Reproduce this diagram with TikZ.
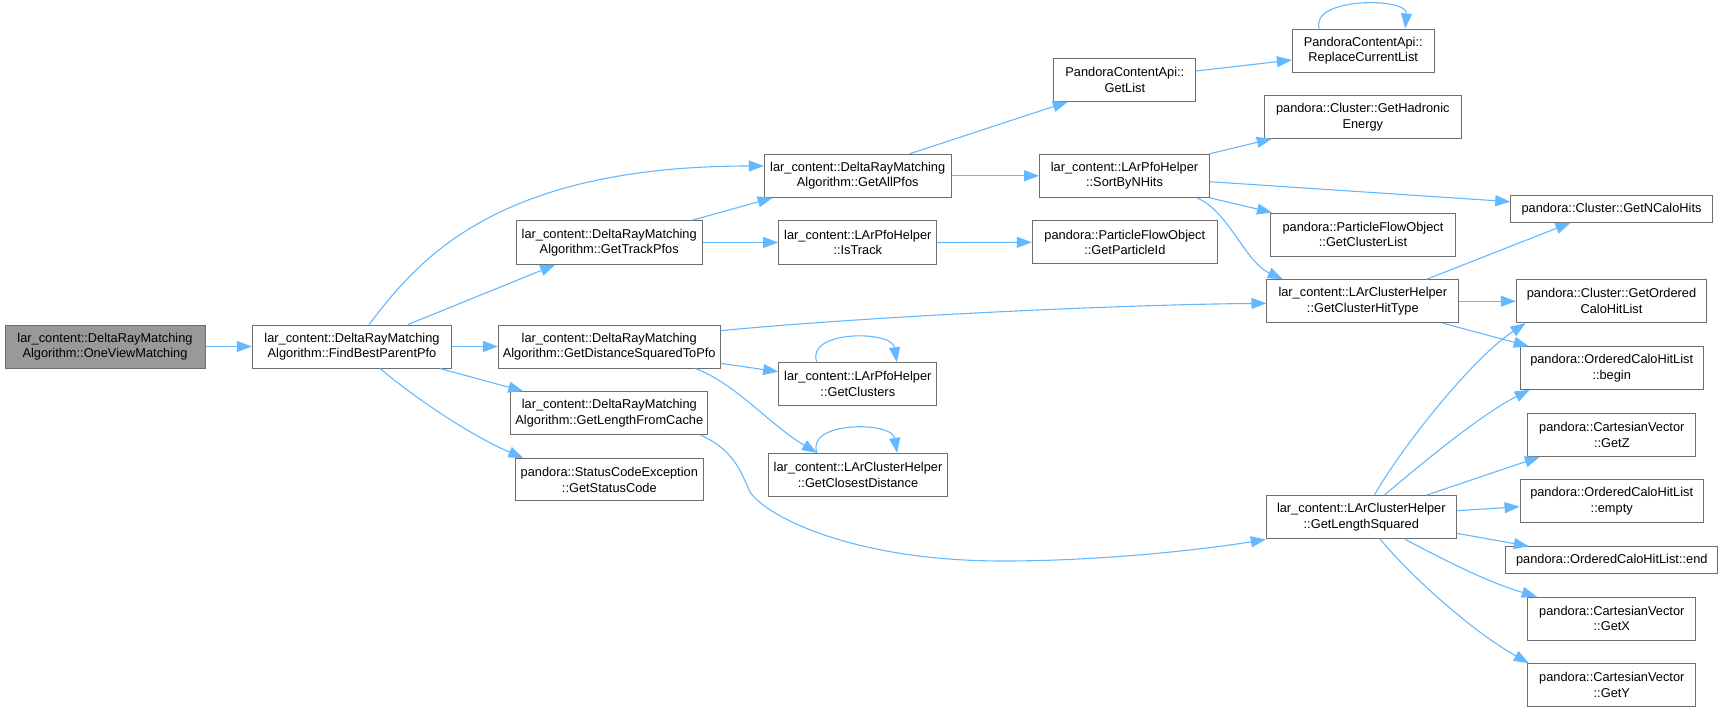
\documentclass[tikz,border=0pt]{standalone}
\usepackage{fontspec}
\setmainfont{Liberation Sans}
\usetikzlibrary{arrows.meta}
\definecolor{edgeblue}{HTML}{63B8FF}
\definecolor{boxborder}{HTML}{6E6E6E}
\definecolor{rootfill}{HTML}{999999}
\newcommand{\nodefont}{\fontsize{12.8}{15.6}\selectfont}
\tikzset{
  fn/.style={draw=boxborder, line width=1pt, fill=white, inner sep=0pt, align=center, font=\nodefont},
  rootfn/.style={fn, fill=rootfill},
  edge/.style={draw=edgeblue, line width=1.1pt, -{Triangle[length=15pt,width=11pt]}},
}
\begin{document}
\begin{tikzpicture}[x=1pt,y=-1pt]
\useasboundingbox (0,0) rectangle (1728,712);
% nodes
\node[rootfn, minimum width=200pt, minimum height=43pt] (root) at (105,346.5) {lar\_content::DeltaRayMatching\\Algorithm::OneViewMatching};
\node[fn, minimum width=199.4pt, minimum height=43pt] (fbp) at (352,346.5) {lar\_content::DeltaRayMatching\\Algorithm::FindBestParentPfo};
\node[fn, minimum width=186.7pt, minimum height=43pt] (gap) at (857.7,175.8) {lar\_content::DeltaRayMatching\\Algorithm::GetAllPfos};
\node[fn, minimum width=186.3pt, minimum height=43.6pt] (gtp) at (609.2,242.5) {lar\_content::DeltaRayMatching\\Algorithm::GetTrackPfos};
\node[fn, minimum width=158.3pt, minimum height=43.6pt] (ist) at (857.8,242.5) {lar\_content::LArPfoHelper\\::IsTrack};
\node[fn, minimum width=221.7pt, minimum height=43pt] (gds) at (609.2,346.5) {lar\_content::DeltaRayMatching\\Algorithm::GetDistanceSquaredToPfo};
\node[fn, minimum width=197.3pt, minimum height=43pt] (glc) at (609.3,413.2) {lar\_content::DeltaRayMatching\\Algorithm::GetLengthFromCache};
\node[fn, minimum width=188pt, minimum height=42.3pt] (gsc) at (609.3,479.8) {pandora::StatusCodeException\\::GetStatusCode};
\node[fn, minimum width=158.3pt, minimum height=42.6pt] (gcl) at (857.8,384) {lar\_content::LArPfoHelper\\::GetClusters};
\node[fn, minimum width=179.4pt, minimum height=42.7pt] (gcd) at (858,474.7) {lar\_content::LArClusterHelper\\::GetClosestDistance};
\node[fn, minimum width=141.7pt, minimum height=42.6pt] (gl) at (1124.8,80) {PandoraContentApi::\\GetList};
\node[fn, minimum width=141.7pt, minimum height=43pt] (rcl) at (1363.2,50.5) {PandoraContentApi::\\ReplaceCurrentList};
\node[fn, minimum width=169.6pt, minimum height=43pt] (sbn) at (1124.5,175.8) {lar\_content::LArPfoHelper\\::SortByNHits};
\node[fn, minimum width=185pt, minimum height=43.3pt] (gpi) at (1124.8,242.3) {pandora::ParticleFlowObject\\::GetParticleId};
\node[fn, minimum width=197pt, minimum height=42.6pt] (ghe) at (1362.8,117) {pandora::Cluster::GetHadronic\\Energy};
\node[fn, minimum width=184.6pt, minimum height=43pt] (gcll) at (1363,234.5) {pandora::ParticleFlowObject\\::GetClusterList};
\node[fn, minimum width=191.7pt, minimum height=43pt] (gcht) at (1362.8,301.2) {lar\_content::LArClusterHelper\\::GetClusterHitType};
\node[fn, minimum width=201.6pt, minimum height=26.6pt] (gnch) at (1611.5,209) {pandora::Cluster::GetNCaloHits};
\node[fn, minimum width=190.4pt, minimum height=43pt] (goch) at (1611.5,301.2) {pandora::Cluster::GetOrdered\\CaloHitList};
\node[fn, minimum width=183.3pt, minimum height=42.6pt] (begin) at (1611.7,368) {pandora::OrderedCaloHitList\\::begin};
\node[fn, minimum width=167.7pt, minimum height=43.3pt] (getz) at (1611.8,434.7) {pandora::CartesianVector\\::GetZ};
\node[fn, minimum width=183.3pt, minimum height=43pt] (empty) at (1611.7,501.2) {pandora::OrderedCaloHitList\\::empty};
\node[fn, minimum width=211.7pt, minimum height=26.6pt] (end) at (1611.8,560) {pandora::OrderedCaloHitList::end};
\node[fn, minimum width=167.7pt, minimum height=43pt] (getx) at (1611.8,618.5) {pandora::CartesianVector\\::GetX};
\node[fn, minimum width=167.7pt, minimum height=43pt] (gety) at (1611.8,685.2) {pandora::CartesianVector\\::GetY};
\node[fn, minimum width=190pt, minimum height=43.3pt] (gls) at (1361.3,517.3) {lar\_content::LArClusterHelper\\::GetLengthSquared};
% edges
\draw[edge] (root.east) -- (fbp.west);
\draw[edge] ([xshift=17pt]fbp.north) .. controls (415,265) and (490,166) .. ([yshift=9.8pt]gap.west);
\draw[edge] ([xshift=56pt]fbp.north) -- ([xshift=-54pt]gtp.south);
\draw[edge] (fbp.east) -- (gds.west);
\draw[edge] ([xshift=88pt]fbp.south) -- ([xshift=-86pt]glc.north);
\draw[edge] ([xshift=28pt]fbp.south) .. controls (415,398) and (470,435) .. ([xshift=-86pt]gsc.north);
\draw[edge] ([xshift=83pt]gtp.north) -- ([xshift=-85pt]gap.south);
\draw[edge] (gtp.east) -- (ist.west);
\draw[edge] (gap.east) -- (sbn.west);
\draw[edge] ([xshift=52pt]gap.north) -- ([xshift=-57pt]gl.south);
\draw[edge] ([yshift=9pt]gl.east) -- ([yshift=-9.5pt]rcl.west);
\draw[edge] ([xshift=-44pt]rcl.north) .. controls (1310,-3) and (1408,-3) .. ([xshift=42pt]rcl.north);
\draw[edge] (ist.east) -- (gpi.west);
\draw[edge] ([xshift=85pt]sbn.north) -- ([xshift=-91pt]ghe.south);
\draw[edge] ([yshift=-5.9pt]sbn.east) -- ([yshift=7.3pt]gnch.west);
\draw[edge] ([xshift=85pt]sbn.south) -- ([xshift=-91pt]gcll.north);
\draw[edge] ([xshift=72pt]sbn.south) .. controls (1228,210) and (1245,262) .. ([xshift=-80pt]gcht.north);
\draw[edge] ([yshift=15.8pt]gds.east) .. controls (850,318) and (1100,305) .. ([yshift=-2.1pt]gcht.west);
\draw[edge] ([yshift=-16.8pt]gds.east) -- ([yshift=12.3pt]gcl.west);
\draw[edge] ([xshift=86pt]gds.south) .. controls (735,383) and (770,425) .. ([xshift=-41pt]gcd.north);
\draw[edge] ([xshift=-41pt]gcl.north) .. controls (805,330) and (892,330) .. ([xshift=39pt]gcl.north);
\draw[edge] ([xshift=-41pt]gcd.north) .. controls (805,421) and (892,421) .. ([xshift=39pt]gcd.north);
\draw[edge] ([xshift=91.4pt]glc.south) .. controls (735,450) and (742,475) .. (750,492) .. controls (765,515) and (850,561) .. (1003,561) .. controls (1100,561) and (1200,550) .. (gls.south west);
\draw[edge] ([xshift=64pt]gcht.north) -- ([xshift=-41pt]gnch.south);
\draw[edge] (gcht.east) -- (goch.west);
\draw[edge] ([xshift=80pt]gcht.south) -- ([xshift=-83pt]begin.north);
\draw[edge] ([xshift=13pt]gls.north) .. controls (1400,450) and (1470,360) .. ([xshift=-86pt]goch.south);
\draw[edge] ([xshift=23pt]gls.north) .. controls (1420,465) and (1480,415) .. ([xshift=-82pt]begin.south);
\draw[edge] ([xshift=65pt]gls.north) -- ([xshift=-72pt]getz.south);
\draw[edge] ([yshift=6.6pt]gls.east) -- ([yshift=-5.5pt]empty.west);
\draw[edge] ([yshift=-16pt]gls.east) -- ([xshift=-83pt]end.north);
\draw[edge] ([xshift=44pt]gls.south) .. controls (1450,563) and (1490,583) .. ([xshift=-75pt]getx.north);
\draw[edge] ([xshift=19pt]gls.south) .. controls (1410,575) and (1470,630) .. ([xshift=-83pt]gety.north);
\end{tikzpicture}
\end{document}
